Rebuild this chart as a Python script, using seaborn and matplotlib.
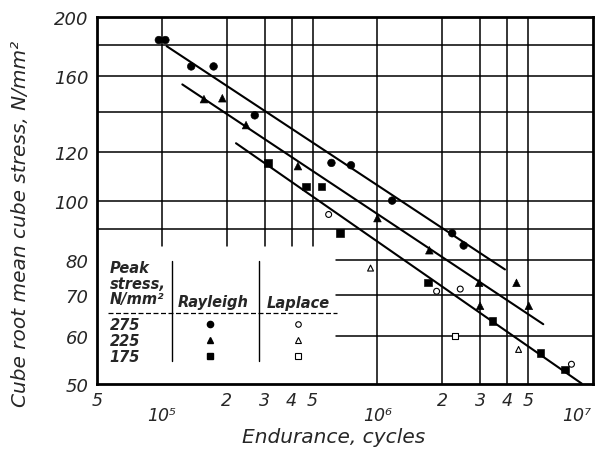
import numpy as np
import pandas as pd
import matplotlib
matplotlib.use("Agg")
import matplotlib.pyplot as plt
import matplotlib.transforms as mtransforms
import seaborn as sns

# --- data (endurance in cycles, stress in N/mm^2) ---
ray275_n = [0.97e5, 1.04e5, 1.37e5, 1.74e5, 2.70e5, 6.12e5, 7.54e5, 1.17e6, 2.22e6, 2.51e6]
ray275_s = [183.4, 183.4, 166, 166, 138, 115.3, 114.3, 100, 88.4, 84.4]

ray225_n = [1.57e5, 1.91e5, 2.46e5, 4.28e5, 1.0e6, 1.74e6, 2.96e6, 2.99e6, 4.41e6, 5.03e6]
ray225_s = [146.7, 147.2, 133, 113.9, 93.6, 82.9, 73.3, 67.2, 73.3, 67.2]

ray175_n = [3.10e5, 4.66e5, 5.51e5, 6.72e5, 1.72e6, 3.42e6, 5.69e6, 7.42e6]
ray175_s = [115.3, 105.5, 105.5, 88.4, 73.4, 63.4, 56.3, 52.8]

lap275_n = [5.94e5, 1.88e6, 2.42e6, 7.93e6]
lap275_s = [94.9, 71.0, 71.6, 53.9]
lap225_n = [9.29e5, 4.51e6]
lap225_s = [77.5, 57.0]
lap175_n = [2.29e6]
lap175_s = [59.9]

# fitted lines (end points)
fit275_n = [1.054e5, 3.90e6]
fit275_s = [179.2, 77.1]
fit225_n = [1.246e5, 5.87e6]
fit225_s = [155.1, 62.7]
fit175_n = [2.21e5, 8.85e6]
fit175_s = [124.2, 50.1]

peak = ["275", "225", "175"]
marks = {"275": "o", "225": "^", "175": "s"}

def frame(n_lists, s_lists, col):
    rows = []
    for p, n, s in zip(peak, n_lists, s_lists):
        for a, b in zip(n, s):
            rows.append({"N": a, "S": b, col: p})
    return pd.DataFrame(rows)

ray = frame([ray275_n, ray225_n, ray175_n], [ray275_s, ray225_s, ray175_s], "peak")
lap = frame([lap275_n, lap225_n, lap175_n], [lap275_s, lap225_s, lap175_s], "peak")
fits = frame([fit275_n, fit225_n, fit175_n], [fit275_s, fit225_s, fit175_s], "line")

sns.set_style("white")
plt.rcParams["font.family"] = ["DejaVu Sans"]
plt.rcParams["font.style"] = "italic"

fig = plt.figure(figsize=(6.01, 4.64), dpi=100)
ax = fig.add_axes([0.161, 0.170, 0.826, 0.791])
ax.set_xscale("log")
ax.set_yscale("log")
ax.set_xlim(5e4, 1e7)
ax.set_ylim(50, 200)

# grid (broken around the table area, like the original)
for v in [1e5, 2e5, 3e5, 4e5, 5e5]:
    ax.plot([v, v], [84.2, 200], color="black", lw=1.1, zorder=1)
for v in [1e6, 2e6, 3e6, 4e6, 5e6]:
    ax.plot([v, v], [50, 200], color="black", lw=1.1, zorder=1)
for h in [180, 160, 140, 120, 100, 90]:
    ax.plot([5e4, 1e7], [h, h], color="black", lw=1.1, zorder=1)
for h in [80, 70, 60]:
    ax.plot([6.45e5, 1e7], [h, h], color="black", lw=1.1, zorder=1)

sns.lineplot(data=fits, x="N", y="S", units="line", estimator=None,
             color="black", lw=1.5, ax=ax, zorder=2)
sns.scatterplot(data=ray, x="N", y="S", style="peak", markers=marks,
                color="black", edgecolor="black", s=30, ax=ax, zorder=3, legend=False)
sns.scatterplot(data=lap, x="N", y="S", style="peak", markers=marks,
                facecolor="white", edgecolor="black", linewidth=0.8, s=18,
                ax=ax, zorder=3, legend=False)

# ticks
ax.set_xticks([1e5, 1e6, 1e7])
ax.set_xticklabels(["10\u2075", "10\u2076", "10\u2077"])
minor = [5e4, 6e4, 7e4, 8e4, 9e4] + [k * 1e5 for k in range(2, 10)] + [k * 1e6 for k in range(2, 10)]
minor_lab = ["5", "", "", "", "", "2", "3", "4", "5", "", "", "", "",
             "2", "3", "4", "5", "", "", "", ""]
ax.set_xticks(minor, minor=True)
ax.set_xticklabels(minor_lab, minor=True)
yt = [50, 60, 70, 80, 100, 120, 160, 200]
ax.set_yticks(yt)
ax.set_yticklabels([str(v) for v in yt])
ax.set_yticks([], minor=True)
ax.tick_params(axis="x", which="major", direction="in", length=10, width=1.2,
               pad=16, labelsize=12.5)
ax.tick_params(axis="x", which="minor", direction="in", length=5, width=1.0,
               pad=5, labelsize=12.5)
ax.tick_params(axis="y", which="major", direction="in", length=6, width=1.2,
               pad=6, labelsize=13)
for sp in ax.spines.values():
    sp.set_linewidth(2)
    sp.set_color("black")

# pull the last decade label inside the figure
lab7 = ax.get_xticklabels()[-1]
lab7.set_transform(lab7.get_transform() +
                   mtransforms.ScaledTranslation(-12 / 72, 0, fig.dpi_scale_trans))

ax.set_xlabel("Endurance, cycles", fontsize=14.5)
ax.set_ylabel("Cube root mean cube stress, N/mm\u00b2", fontsize=14.5)
ax.xaxis.set_label_coords(0.478, -0.118)
ax.yaxis.set_label_coords(-0.135, 0.44)

# key table drawn inside the axes
tk = dict(transform=ax.transAxes, fontsize=10.5, fontweight="bold", va="center")
ax.text(0.026, 0.319, "Peak", ha="left", **tk)
ax.text(0.026, 0.275, "stress,", ha="left", **tk)
ax.text(0.026, 0.232, "N/mm\u00b2", ha="left", **tk)
ax.text(0.234, 0.226, "Rayleigh", ha="center", **tk)
ax.text(0.405, 0.223, "Laplace", ha="center", **tk)
for p, yy in zip(peak, [0.163, 0.120, 0.076]):
    ax.text(0.026, yy, p, ha="left", **tk)
    ax.plot(0.228, yy, marker=marks[p], color="black", ms=4.5,
            transform=ax.transAxes, clip_on=False)
    ax.plot(0.405, yy, marker=marks[p], mfc="white", mec="black", ms=4, mew=0.8,
            transform=ax.transAxes, clip_on=False)
ax.plot([0.151, 0.151], [0.063, 0.335], color="black", lw=1.0, transform=ax.transAxes)
ax.plot([0.327, 0.327], [0.063, 0.335], color="black", lw=1.0, transform=ax.transAxes)
ax.plot([0.022, 0.484], [0.193, 0.193], color="black", lw=0.9, ls=(0, (4, 2)),
        transform=ax.transAxes)

fig.savefig("out.png", dpi=100)
